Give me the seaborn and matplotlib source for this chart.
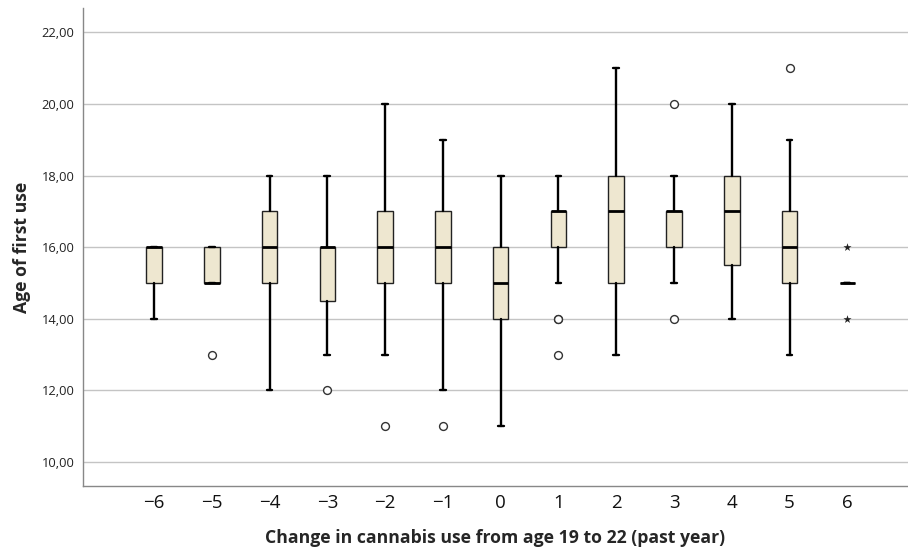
import numpy as np
import pandas as pd
import matplotlib
matplotlib.use("Agg")
import matplotlib.pyplot as plt
import seaborn as sns

# box summaries
change = [-6, -5, -4, -3, -2, -1, 0, 1, 2, 3, 4, 5, 6]
q1 = [15, 15, 15, 14.5, 15, 15, 14, 16, 15, 16, 15.5, 15, 15]
med = [16, 15, 16, 16, 16, 16, 15, 17, 17, 17, 17, 16, 15]
q3 = [16, 16, 17, 16, 17, 17, 16, 17, 18, 17, 18, 17, 15]
whis_lo = [14, 15, 12, 13, 13, 12, 11, 15, 13, 15, 14, 13, 15]
whis_hi = [16, 16, 18, 18, 20, 19, 18, 18, 21, 18, 20, 19, 15]

# outliers (circles) and extremes (stars)
out_x = [-5, -3, -2, -1, 1, 1, 1, 3, 3, 5]
out_y = [13, 12, 11, 11, 14, 14, 13, 20, 14, 21]
ext_x = [6, 6]
ext_y = [16, 14]

labels = [str(c).replace("-", "\u2212") for c in change]
pos = {c: i for i, c in enumerate(change)}

sns.set_style("white")
plt.rcParams["font.family"] = ["Open Sans", "DejaVu Sans"]

fig, ax = plt.subplots(figsize=(9.08, 5.51), dpi=100)
fig.subplots_adjust(left=0.0914, right=1.0, top=0.985, bottom=0.118)

stats = []
for i in range(len(change)):
    stats.append({"q1": q1[i], "med": med[i], "q3": q3[i],
                  "whislo": whis_lo[i], "whishi": whis_hi[i], "fliers": []})

ax.bxp(stats, positions=range(len(change)), widths=0.27, patch_artist=True,
       showfliers=False,
       boxprops=dict(facecolor="#EEE7D0", edgecolor="#222222", linewidth=1.0),
       medianprops=dict(color="black", linewidth=2.0),
       whiskerprops=dict(color="black", linewidth=1.7),
       capprops=dict(color="black", linewidth=1.7), capwidths=0.1,
       zorder=3)

out = pd.DataFrame({"x": [pos[v] for v in out_x], "y": out_y})
ext = pd.DataFrame({"x": [pos[v] for v in ext_x], "y": ext_y})
sns.scatterplot(data=out, x="x", y="y", ax=ax, marker="o", s=32,
                facecolor="white", edgecolor="#333333", linewidth=1.0, zorder=4)
sns.scatterplot(data=ext, x="x", y="y", ax=ax, marker="*", s=38,
                color="#222222", linewidth=0, zorder=4)

ax.set_xlim(-1.23, 13.05)
ax.set_ylim(9.33, 22.67)
yt = [10, 12, 14, 16, 18, 20, 22]
ax.set_yticks(yt)
ax.set_yticklabels([f"{v:.2f}".replace(".", ",") for v in yt],
                   fontsize=9.3, color="#222222")
ax.set_xticks(range(len(change)))
ax.set_xticklabels(labels, fontsize=13.5, color="#111111")
ax.tick_params(axis="both", length=0, pad=6)
ax.tick_params(axis="y", pad=6)

ax.yaxis.grid(True, color="#c4c4c4", linewidth=1.0, zorder=0)
ax.set_axisbelow(True)
for s in ["top", "right"]:
    ax.spines[s].set_visible(False)
for s in ["left", "bottom"]:
    ax.spines[s].set_color("#888888")
    ax.spines[s].set_linewidth(1.0)

ax.set_xlabel("Change in cannabis use from age 19 to 22 (past year)",
              fontsize=12.7, fontweight="bold", labelpad=12)
ax.set_ylabel("Age of first use", fontsize=12.7, fontweight="bold", labelpad=8)

plt.savefig("out.png", dpi=100)
plt.close()
